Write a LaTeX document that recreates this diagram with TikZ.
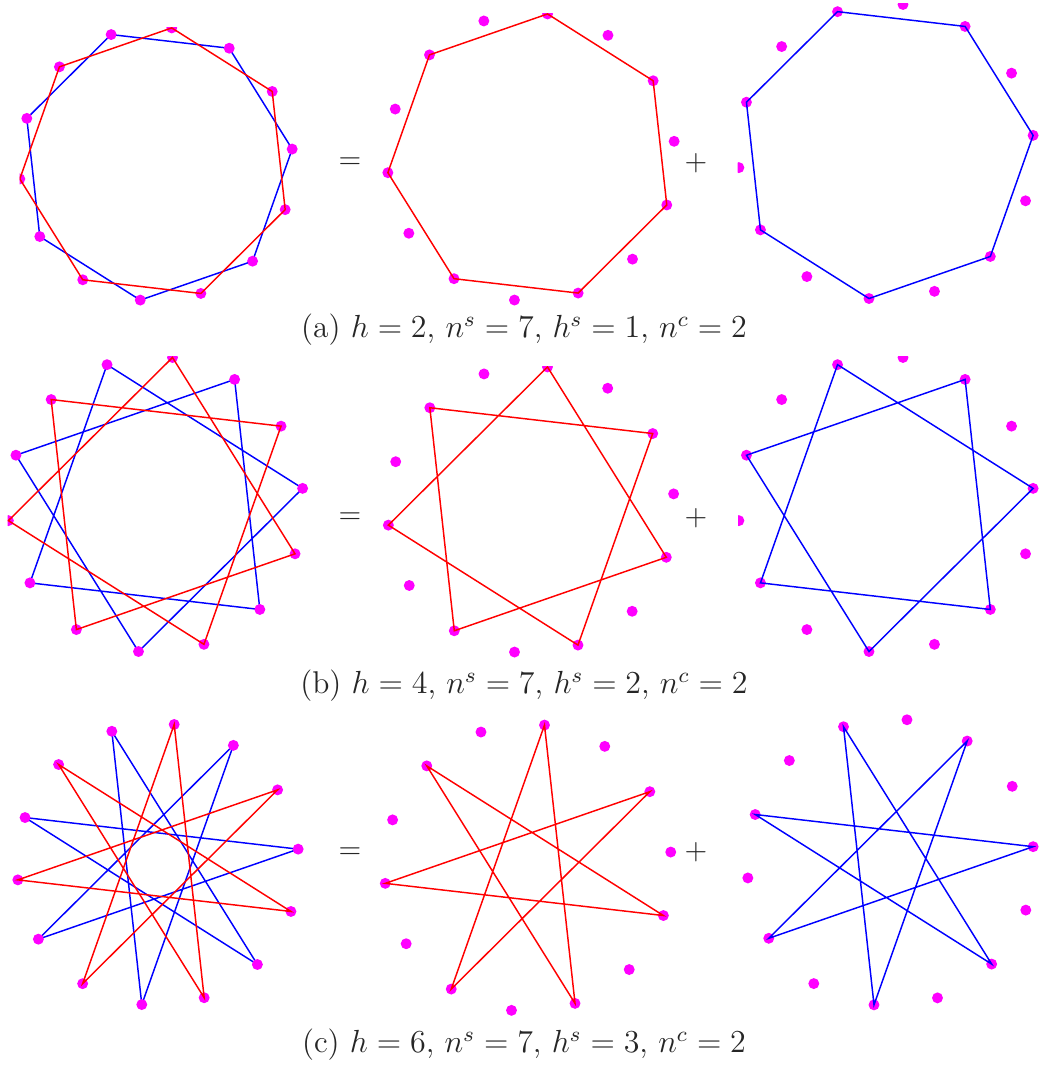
\documentclass[tikz,border=0pt]{standalone}
\begin{document}
\definecolor{pmag}{RGB}{255,0,255}
\definecolor{pred}{RGB}{255,0,0}
\definecolor{pblue}{RGB}{0,0,255}
\tikzset{
  redline/.style={draw=pred, line width=0.55pt, line join=miter},
  blueline/.style={draw=pblue, line width=0.55pt, line join=miter},
  pdot/.style={fill=pmag},
  signtxt/.style={font=\fontsize{11}{13}\selectfont, text=black!85, inner sep=0pt},
  captxt/.style={font=\fontsize{11.8}{13}\selectfont, text=black!85, inner sep=0pt}
}
\newcommand{\mkpts}[4]{\foreach \k in {0,...,13}{\coordinate (#1-\k) at ({#2+#4*cos(83.4+\k*360/14)},{#3-#4*sin(83.4+\k*360/14)});}}
\newcommand{\mkdots}[1]{\foreach \k in {0,...,13}{\fill[pdot] (#1-\k) circle[radius=2.05pt];}}
\newcommand{\mkpoly}[4]{\draw[#4] (#1-#2) \foreach \j [evaluate=\j as \idx using {int(mod(#2+\j*#3,14))}] in {1,...,6}{ -- (#1-\idx)} -- cycle;}
\begin{tikzpicture}[x=0.375pt,y=-0.375pt]
\useasboundingbox (0,0) rectangle (1044,1069);
% ---------- row a ----------
\mkpts{aL}{156}{164}{137}
\mkpts{aM}{531}{157}{144}
\mkpts{aR}{886}{151.5}{148}
\begin{scope}
  \clip (19.5,27) rectangle (340,320);
  \mkpoly{aL}{1}{2}{blueline}
  \mkdots{aL}
  \mkpoly{aL}{0}{2}{redline}
\end{scope}
\begin{scope}
  \clip (370,13) rectangle (700,320);
  \mkdots{aM}
  \mkpoly{aM}{0}{2}{redline}
\end{scope}
\begin{scope}
  \clip (737.5,3.5) rectangle (1044,320);
  \mkdots{aR}
  \mkpoly{aR}{1}{2}{blueline}
\end{scope}
\node[signtxt] (eqa) at (350,163) {$=$};
\node[signtxt] (pla) at (696,163) {$+$};
\node[captxt] (capa) at (524,330) {(a) $h=2$, $n^s=7$, $h^s=1$, $n^c=2$};
% ---------- row b ----------
\mkpts{bL}{155.5}{504.5}{148}
\mkpts{bM}{531}{509.5}{143.5}
\mkpts{bR}{886}{504.5}{148}
\begin{scope}
  \clip (7.5,356.5) rectangle (340,670);
  \mkpoly{bL}{1}{4}{blueline}
  \mkdots{bL}
  \mkpoly{bL}{0}{4}{redline}
\end{scope}
\begin{scope}
  \clip (370,366) rectangle (700,670);
  \mkdots{bM}
  \mkpoly{bM}{0}{4}{redline}
\end{scope}
\begin{scope}
  \clip (738,356.5) rectangle (1044,670);
  \mkdots{bR}
  \mkpoly{bR}{1}{4}{blueline}
\end{scope}
\node[signtxt] (eqb) at (350,518) {$=$};
\node[signtxt] (plb) at (696,518) {$+$};
\node[captxt] (capb) at (524,686) {(b) $h=4$, $n^s=7$, $h^s=2$, $n^c=2$};
% ---------- row c ----------
\mkpts{cL}{158}{864.5}{141}
\mkpts{cM}{528}{867.7}{143.6}
\mkpts{cR}{890.5}{862.3}{143.5}
\mkpoly{cL}{1}{6}{blueline}
\mkdots{cL}
\mkpoly{cL}{0}{6}{redline}
\mkdots{cM}
\mkpoly{cM}{0}{6}{redline}
\mkdots{cR}
\mkpoly{cR}{1}{6}{blueline}
\node[signtxt] (eqc) at (350,853) {$=$};
\node[signtxt] (plc) at (696,852) {$+$};
\node[captxt] (capc) at (524,1045) {(c) $h=6$, $n^s=7$, $h^s=3$, $n^c=2$};
\end{tikzpicture}
\end{document}
